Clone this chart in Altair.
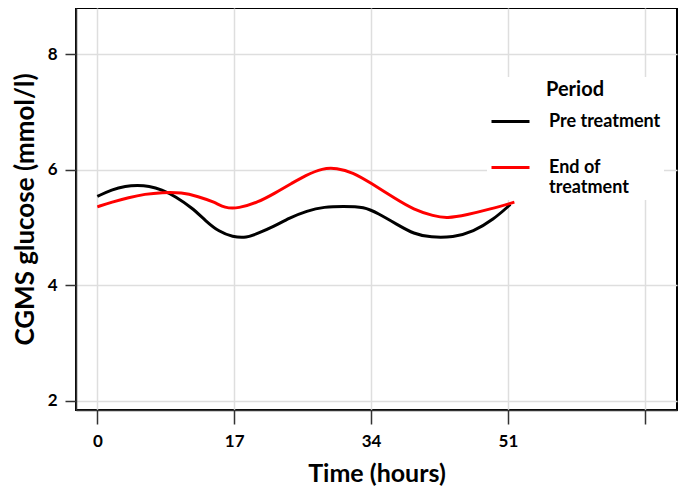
import altair as alt
import pandas as pd

# Pre treatment curve (hours, glucose mmol/l)
hours_pre = [0, 1.8, 3.5, 5.0, 6.4, 8.0, 9.7, 11.8, 13.5, 15.1, 16.8, 18.5, 20.1, 21.8,
             23.9, 26.0, 28.2, 30.5, 33.2, 34.8, 37.3, 39.3, 41.4, 44.2, 46.7, 49.2, 51.3]
glucose_pre = [5.54, 5.66, 5.72, 5.73, 5.72, 5.66, 5.54, 5.34, 5.11, 4.93, 4.84, 4.82, 4.91, 5.01,
               5.17, 5.29, 5.36, 5.37, 5.36, 5.25, 5.05, 4.89, 4.83, 4.83, 4.93, 5.14, 5.40]

# End of treatment curve
hours_end = [0, 1.8, 3.9, 5.9, 8.0, 10.5, 12.5, 14.6, 15.8, 17.5, 20.0, 22.1, 24.2, 25.8,
             28.0, 29.7, 31.7, 34.0, 36.9, 39.3, 41.8, 43.4, 45.9, 48.8, 51.8]
glucose_end = [5.36, 5.44, 5.52, 5.58, 5.61, 5.61, 5.54, 5.44, 5.34, 5.33, 5.44, 5.60, 5.77, 5.90,
               6.03, 6.03, 5.96, 5.77, 5.51, 5.31, 5.20, 5.16, 5.22, 5.32, 5.44]

periods = ["Pre treatment", "End of treatment"]
colors = ["#000000", "#ff0000"]
x_ticks = [0, 17, 34, 51, 68]
y_ticks = [2, 4, 6, 8]

df = pd.concat([
    pd.DataFrame({"hour": hours_pre, "glucose": glucose_pre, "period": periods[0]}),
    pd.DataFrame({"hour": hours_end, "glucose": glucose_end, "period": periods[1]}),
], ignore_index=True)

FONT = "Lato"

chart = alt.Chart(df).mark_line(strokeWidth=3, interpolate="basis").encode(
    x=alt.X("hour:Q",
            scale=alt.Scale(domain=[-2.65, 72], nice=False, zero=False),
            axis=alt.Axis(values=x_ticks, title="Time (hours)",
                          labelExpr="datum.value == 68 ? '' : datum.label",
                          tickSize=14, labelPadding=9, titlePadding=12)),
    y=alt.Y("glucose:Q",
            scale=alt.Scale(domain=[1.844, 8.80], nice=False, zero=False),
            axis=alt.Axis(values=y_ticks, title="CGMS  glucose (mmol/l)",
                          tickSize=11, labelPadding=8, titlePadding=9,
                          titleFontSize=26)),
    color=alt.Color("period:N",
                    scale=alt.Scale(domain=periods, range=colors),
                    legend=alt.Legend(title="Period", orient="none", legendX=411, legendY=69,
                                      fillColor="white", padding=3,
                                      symbolType="stroke", symbolSize=1444, symbolStrokeWidth=3,
                                      labelOffset=18, labelFont=FONT, labelFontSize=18,
                                      labelFontWeight="bold", labelColor="black", labelLimit=300,
                                      titleFont=FONT, titleFontSize=20, titleFontWeight="bold",
                                      titleColor="black", titleAnchor="middle", titlePadding=1,
                                      rowPadding=16,
                                      labelExpr="datum.label == 'End of treatment' ? ['End of', 'treatment'] : datum.label")),
).properties(
    width=601, height=402,
    autosize=alt.AutoSizeParams(type="none"),
    padding={"left": 68, "top": 0, "right": 1, "bottom": 77},
).configure_view(
    stroke="#000000", strokeWidth=2
).configure_axis(
    domainColor="#333333", domainWidth=1.5,
    tickColor="#333333", tickWidth=1.5,
    gridColor="#dedede", gridWidth=1.5,
    labelFont=FONT, labelFontSize=17, labelFontWeight="bold", labelColor="black",
    titleFont=FONT, titleFontSize=25, titleFontWeight="bold", titleColor="black",
)

chart.save("out.html", embed_options={"renderer": "svg", "actions": False})
